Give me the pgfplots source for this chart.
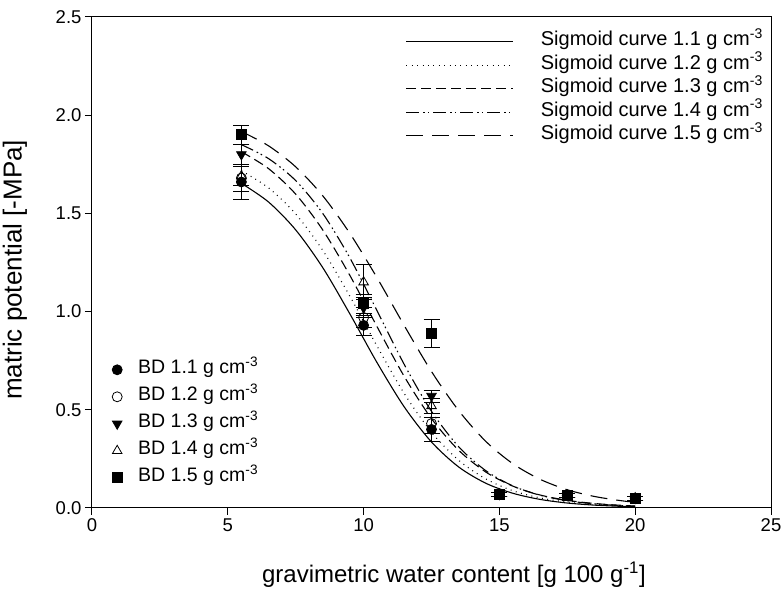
\documentclass[border=0pt]{standalone}
\usepackage{fontspec}
\setmainfont{Liberation Sans}
\usepackage{pgfplots}
\pgfplotsset{compat=1.18}
\begin{document}
\begin{tikzpicture}
\pgfplotsset{
  common/.style={
    scale only axis, width=679pt, height=491pt,
    xmin=0, xmax=25, ymin=0, ymax=2.5,
  },
  curve/.style={black, line width=1.1pt, smooth, no marks},
  dat/.style={black, only marks, mark size=5pt, line width=0.8pt,
    error bars/y dir=both, error bars/y explicit,
    error bars/error bar style={black, line width=0.8pt, solid},
    error bars/error mark options={rotate=90, mark size=8pt, line width=0.8pt, black, solid}},
}
\useasboundingbox (-92pt,-88pt) rectangle (692pt,508pt);
\begin{axis}[common,
  axis line style={line width=1pt},
  xtick={0,5,...,25}, ytick={0,0.5,...,2.5},
  tick align=outside, xtick pos=bottom, ytick pos=left,
  major tick length=7pt, tick style={line width=1pt, black},
  xticklabel style={font=\fontsize{18.5}{20}\selectfont, /pgf/number format/.cd, assume math mode=true},
  yticklabel style={font=\fontsize{18.5}{20}\selectfont, /pgf/number format/.cd, fixed, fixed zerofill, precision=1, assume math mode=true},
  xlabel={gravimetric water content [g 100 g\textsuperscript{-1}]},
  ylabel={matric potential [-MPa]},
  xlabel style={font=\fontsize{24}{27}\selectfont, at={(axis description cs:0.533,0)}, anchor=center, yshift=-67pt},
  ylabel style={font=\fontsize{26}{29}\selectfont, at={(axis description cs:-0.1134,0.485)}, anchor=center},
  legend style={at={(axis description cs:1,1)}, anchor=north east, xshift=-8pt, yshift=-13pt,
    draw=none, fill=none, inner sep=0pt, font=\fontsize{20}{22}\selectfont,
    nodes={inner xsep=0pt, inner ysep=3.75pt, text height=12pt, text depth=4pt},
    /tikz/every odd column/.append style={column sep=27pt}},
  legend cell align=left,
  legend image code/.code={\draw[#1] (0pt,0pt) -- (107pt,0pt);},
]
\addplot[curve, solid] coordinates {(5.5,1.653) (6.5,1.558) (7.5,1.416) (8.5,1.223) (9.5,0.987) (10.5,0.739) (11.5,0.514) (12.5,0.336) (13.5,0.209) (14.5,0.126) (15.5,0.0748) (16.5,0.0437) (17.5,0.0253) (18.5,0.0146) (19.5,0.0084) (20,0.0064)};
\addlegendentry{Sigmoid curve 1.1 g cm\textsuperscript{-3}}
\addplot[curve, dash pattern=on 0.9pt off 4.5pt] coordinates {(5.5,1.717) (6.5,1.630) (7.5,1.497) (8.5,1.311) (9.5,1.077) (10.5,0.823) (11.5,0.582) (12.5,0.386) (13.5,0.243) (14.5,0.148) (15.5,0.0877) (16.5,0.0514) (17.5,0.0298) (18.5,0.0172) (19.5,0.0099) (20,0.0075)};
\addlegendentry{Sigmoid curve 1.2 g cm\textsuperscript{-3}}
\addplot[curve, dash pattern=on 10pt off 5pt] coordinates {(5.5,1.814) (6.5,1.728) (7.5,1.598) (8.5,1.415) (9.5,1.183) (10.5,0.922) (11.5,0.669) (12.5,0.455) (13.5,0.294) (14.5,0.183) (15.5,0.111) (16.5,0.0661) (17.5,0.039) (18.5,0.0229) (19.5,0.0134) (20,0.0103)};
\addlegendentry{Sigmoid curve 1.3 g cm\textsuperscript{-3}}
\addplot[curve, dash pattern=on 13pt off 4pt on 1.5pt off 3pt on 1.5pt off 4pt] coordinates {(5.5,1.850) (6.5,1.779) (7.5,1.667) (8.5,1.499) (9.5,1.272) (10.5,1.003) (11.5,0.730) (12.5,0.492) (13.5,0.312) (14.5,0.190) (15.5,0.112) (16.5,0.0648) (17.5,0.0371) (18.5,0.0211) (19.5,0.0120) (20,0.0090)};
\addlegendentry{Sigmoid curve 1.4 g cm\textsuperscript{-3}}
\addplot[curve, dash pattern=on 17pt off 9pt] coordinates {(5.5,1.917) (6.5,1.844) (7.5,1.737) (8.5,1.589) (9.5,1.397) (10.5,1.171) (11.5,0.928) (12.5,0.695) (13.5,0.496) (14.5,0.339) (15.5,0.225) (16.5,0.146) (17.5,0.0928) (18.5,0.0587) (19.5,0.0369) (20,0.0292)};
\addlegendentry{Sigmoid curve 1.5 g cm\textsuperscript{-3}}
\end{axis}
\begin{axis}[common, hide axis,
  legend style={at={(axis description cs:0,0)}, anchor=south west, xshift=20pt, yshift=16.5pt,
    draw=none, fill=none, inner sep=0pt, font=\fontsize{19.5}{22}\selectfont,
    nodes={inner xsep=0pt, inner ysep=5.5pt, text height=12pt, text depth=4pt},
    /tikz/every odd column/.append style={column sep=16pt}},
  legend cell align=left,
  legend image code/.code={\draw[#1] plot coordinates {(0pt,0pt)};},
]
\addplot[dat, mark=*, mark options={fill=black}] coordinates {(5.5,1.66) +- (0,0.09) (10,0.93) +- (0,0.05) (12.5,0.40) +- (0,0.06) (15,0.07) +- (0,0.01) (17.5,0.065) +- (0,0.01) (20,0.05) +- (0,0.01)};
\addlegendentry{BD 1.1 g cm\textsuperscript{-3}}
\addplot[dat, mark=o, mark options={fill=white}] coordinates {(5.5,1.68) +- (0,0.07) (10,0.97) +- (0,0.05) (12.5,0.43) +- (0,0.05) (15,0.07) +- (0,0.01) (17.5,0.065) +- (0,0.01) (20,0.05) +- (0,0.01)};
\addlegendentry{BD 1.2 g cm\textsuperscript{-3}}
\addplot[dat, mark=triangle*, mark size=5.5pt, mark options={fill=black, rotate=180}] coordinates {(5.5,1.80) +- (0,0.05) (10,1.02) +- (0,0.05) (12.5,0.57) +- (0,0.03) (15,0.07) +- (0,0.01) (17.5,0.065) +- (0,0.01) (20,0.05) +- (0,0.01)};
\addlegendentry{BD 1.3 g cm\textsuperscript{-3}}
\addplot[dat, mark=triangle, mark size=5.5pt, mark options={fill=white}] coordinates {(5.5,1.69) +- (0,0.05) (10,1.15) +- (0,0.09) (12.5,0.52) +- (0,0.04) (15,0.07) +- (0,0.01) (17.5,0.065) +- (0,0.01) (20,0.05) +- (0,0.01)};
\addlegendentry{BD 1.4 g cm\textsuperscript{-3}}
\addplot[dat, mark=square*, mark options={fill=black}] coordinates {(5.5,1.90) +- (0,0.05) (10,1.04) +- (0,0.05) (12.5,0.89) +- (0,0.07) (15,0.07) +- (0,0.01) (17.5,0.065) +- (0,0.01) (20,0.05) +- (0,0.01)};
\addlegendentry{BD 1.5 g cm\textsuperscript{-3}}
\end{axis}
\end{tikzpicture}
\end{document}
